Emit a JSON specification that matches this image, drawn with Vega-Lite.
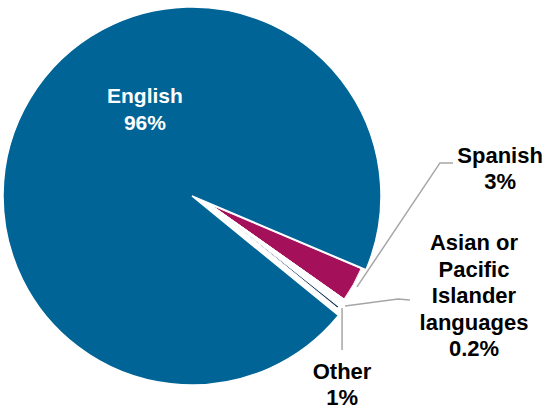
{
  "$schema": "https://vega.github.io/schema/vega-lite/v6.json",
  "width": 384,
  "height": 392,
  "autosize": {"type": "none"},
  "padding": {"left": 0, "top": 0, "right": 163, "bottom": 16},
  "background": "white",
  "config": {"view": {"stroke": null}},
  "datasets": {
    "slices": [
      {"language": "Spanish", "share": 3.4, "order": 1},
      {"language": "Other", "share": 0.9, "order": 2},
      {"language": "Asian or Pacific Islander languages", "share": 0.2, "order": 3},
      {"language": "English", "share": 95.5, "order": 4}
    ],
    "labels": [
      {"label": "English\n96%", "u": -0.249, "v": 0.526, "inside": true},
      {"label": "Spanish\n3%", "u": 1.63, "v": 0.212, "inside": false},
      {"label": "Asian or\nPacific\nIslander\nlanguages\n0.2%", "u": 1.492, "v": -0.249, "inside": false},
      {"label": "Other\n1%", "u": 0.794, "v": -0.931, "inside": false}
    ],
    "leaders": [
      {"leader": "Spanish", "step": 1, "u": 1.381, "v": 0.175},
      {"leader": "Spanish", "step": 2, "u": 1.312, "v": 0.175},
      {"leader": "Spanish", "step": 3, "u": 0.873, "v": -0.481},
      {"leader": "Asian", "step": 1, "u": 1.153, "v": -0.55},
      {"leader": "Asian", "step": 2, "u": 1.09, "v": -0.545},
      {"leader": "Asian", "step": 3, "u": 0.81, "v": -0.582},
      {"leader": "Other", "step": 1, "u": 0.794, "v": -0.593},
      {"leader": "Other", "step": 2, "u": 0.794, "v": -0.815}
    ]
  },
  "layer": [
    {
      "data": {"name": "slices"},
      "mark": {"type": "arc", "radius": 189, "stroke": "white", "strokeWidth": 1.5},
      "encoding": {
        "theta": {"field": "share", "type": "quantitative", "stack": true, "scale": {"range": [1.972, 8.255]}},
        "order": {"field": "order", "type": "quantitative"},
        "color": {"field": "language", "type": "nominal", "legend": null,
          "scale": {"domain": ["English", "Spanish", "Other", "Asian or Pacific Islander languages"], "range": ["#006496", "#A5105A", "#ffffff", "#1C3F5E"]}},
        "opacity": {"condition": {"test": "datum.language === 'English'", "value": 1}, "value": 0}
      }
    },
    {
      "data": {"name": "slices"},
      "mark": {"type": "arc", "radius": 163, "xOffset": 19, "yOffset": 9, "stroke": "white", "strokeWidth": 1},
      "encoding": {
        "theta": {"field": "share", "type": "quantitative", "stack": true, "scale": {"range": [1.972, 8.255]}},
        "order": {"field": "order", "type": "quantitative"},
        "color": {"field": "language", "type": "nominal", "legend": null},
        "opacity": {"condition": {"test": "datum.language === 'English'", "value": 0}, "value": 1}
      }
    },
    {
      "data": {"name": "leaders"},
      "mark": {"type": "line", "color": "#A6A6A6", "strokeWidth": 1.5},
      "encoding": {
        "x": {"field": "u", "type": "quantitative", "axis": null, "scale": {"domain": [-1.0159, 1.0159], "nice": false, "zero": false}},
        "y": {"field": "v", "type": "quantitative", "axis": null, "scale": {"domain": [-1.037, 1.037], "nice": false, "zero": false}},
        "detail": {"field": "leader", "type": "nominal"},
        "order": {"field": "step", "type": "quantitative"}
      }
    },
    {
      "data": {"name": "labels"},
      "transform": [{"filter": "datum.inside"}],
      "mark": {"type": "text", "font": "Liberation Sans", "fontWeight": "bold", "fontSize": 21, "lineHeight": 27, "lineBreak": "\n", "align": "center", "baseline": "middle", "color": "white"},
      "encoding": {
        "x": {"field": "u", "type": "quantitative"},
        "y": {"field": "v", "type": "quantitative"},
        "text": {"field": "label", "type": "nominal"}
      }
    },
    {
      "data": {"name": "labels"},
      "transform": [{"filter": "!datum.inside"}],
      "mark": {"type": "text", "font": "Liberation Sans", "fontWeight": "bold", "fontSize": 22, "lineHeight": 26.5, "lineBreak": "\n", "align": "center", "baseline": "middle", "color": "black"},
      "encoding": {
        "x": {"field": "u", "type": "quantitative"},
        "y": {"field": "v", "type": "quantitative"},
        "text": {"field": "label", "type": "nominal"}
      }
    }
  ]
}
